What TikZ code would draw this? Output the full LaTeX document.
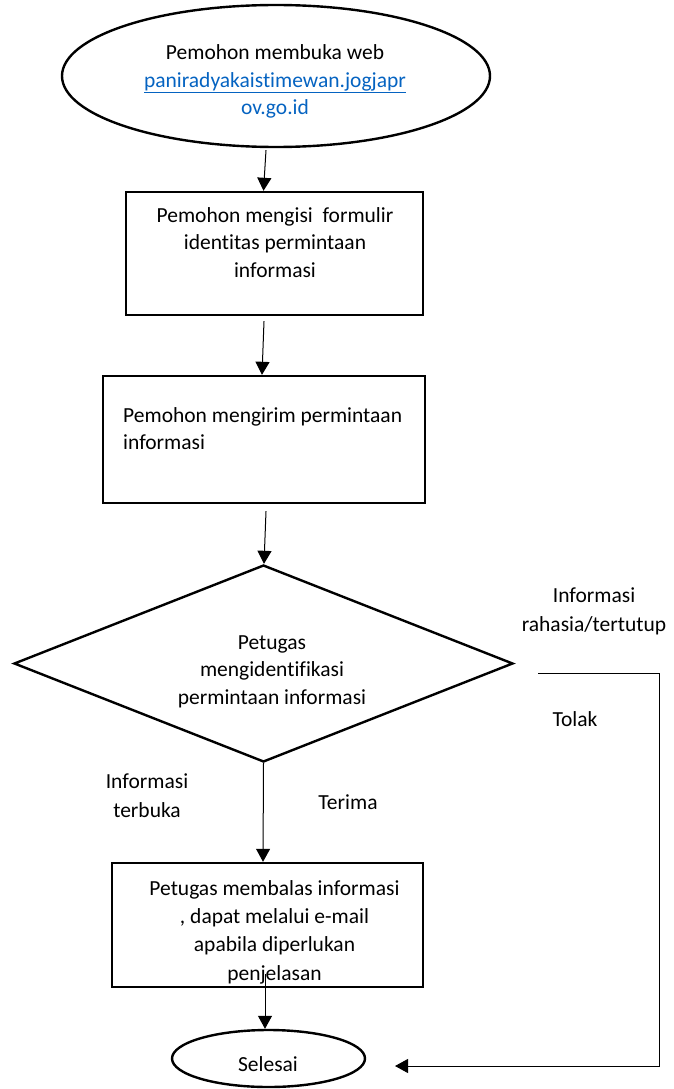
\documentclass[tikz,border=0pt]{standalone}
\usepackage{fontspec}
\setmainfont{Carlito}[Ligatures=NoCommon]
\usetikzlibrary{shapes.geometric,arrows.meta}
\definecolor{linkblue}{HTML}{0563C1}
\begin{document}
\begin{tikzpicture}[x=1pt,y=-1pt,
  every node/.style={font=\fontsize{21.5}{27.5}\selectfont},
  boxstyle/.style={draw,line width=2.4pt,rectangle,inner sep=0pt},
  ovalstyle/.style={draw,line width=2.4pt,ellipse,inner sep=0pt},
  diamstyle/.style={draw,line width=2.4pt,diamond,inner sep=0pt},
  txt/.style={inner sep=0pt,align=center,anchor=base},
  arr/.style={line width=1pt,-{Triangle[length=13pt,width=14pt]}}]
\useasboundingbox (0,0) rectangle (674,1089);
% shapes
\node[ovalstyle,minimum width=428pt,minimum height=142pt] (e1) at (276,76) {};
\node[boxstyle,minimum width=297pt,minimum height=123pt] (b1) at (274.5,253.5) {};
\node[boxstyle,minimum width=322pt,minimum height=127pt] (b2) at (264,439.5) {};
\node[diamstyle,minimum width=499pt,minimum height=197pt] (d) at (263.5,663.5) {};
\node[boxstyle,minimum width=311pt,minimum height=124pt] (b3) at (267.5,925) {};
\node[ovalstyle,minimum width=193pt,minimum height=57pt] (sel) at (268.5,1058.5) {};
% texts (base anchor = baseline of the last line)
\node[txt] (t0) at (275,115) {Pemohon membuka web\\{\color{linkblue}\underline{paniradyakaistimewan.jogjapr}}\\{\color{linkblue}ov.go.id}};
\node[txt] (t1) at (275,277) {Pemohon mengisi\ \ formulir\\identitas permintaan\\informasi};
\node[txt,align=left,anchor=base west] (t2) at (123,449.5) {Pemohon mengirim permintaan\\informasi};
\node[txt] (t3) at (272,704) {Petugas\\mengidentifikasi\\permintaan informasi};
\node[txt,font=\fontsize{21.5}{28.3}\selectfont] (t4) at (274.5,980) {Petugas membalas informasi\\, dapat melalui e-mail\\apabila diperlukan\\penjelasan};
\node[txt] (t5) at (268,1071) {Selesai};
\node[txt,font=\fontsize{21.5}{29}\selectfont] (l1) at (594,631) {Informasi\\rahasia/tertutup};
\node[txt] (l2) at (575,726) {Tolak};
\node[txt,font=\fontsize{21.5}{29}\selectfont] (l3) at (147,817) {Informasi\\terbuka};
\node[txt] (l4) at (348,809) {Terima};
% connectors
\draw[arr] ([xshift=-10pt,yshift=-2pt]e1.south) -- ([xshift=-11pt]b1.north);
\draw[arr] ([xshift=-10.5pt,yshift=-5pt]b1.south) -- ([xshift=-2pt]b2.north);
\draw[arr] ([xshift=2pt,yshift=-7pt]b2.south) -- ([xshift=0.5pt]d.north);
\draw[arr] (d.south) -- ([xshift=-4.5pt]b3.north);
\draw[arr] ([xshift=-2.5pt,yshift=14pt]b3.south) -- ([xshift=-3.5pt]sel.north);
\coordinate (r1) at (538,673);
\coordinate (r2) at (659,673);
\coordinate (r3) at (659,1066);
\coordinate (r4) at (395,1066);
\draw[arr] (r1) -- (r2) -- (r3) -- (r4);
\end{tikzpicture}
\end{document}
